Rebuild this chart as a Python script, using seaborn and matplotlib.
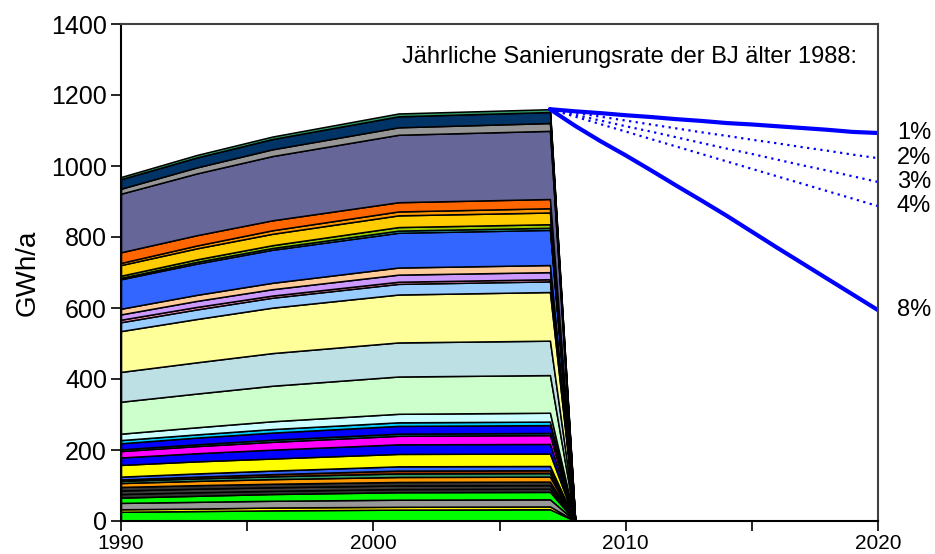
import numpy as np
import pandas as pd
import matplotlib
matplotlib.use("Agg")
import matplotlib.pyplot as plt
import seaborn as sns

# ---------------- data ----------------
stack_years = [1990, 1993, 1996, 2001, 2007, 2008]

# layer values (GWh/a) bottom -> top, at stack_years
layer_values = [
    [26, 28, 30, 32, 33, 0],
    [7, 7, 8, 8, 8, 0],
    [18, 19, 19, 20, 20, 0],
    [15, 17, 19, 21, 21, 0],
    [10, 10, 9, 9, 9, 0],
    [10, 10, 10, 10, 10, 0],
    [10, 10, 10, 10, 10, 0],
    [11, 12, 13, 14, 14, 0],
    [6, 7, 8, 10, 10, 0],
    [4, 5, 6, 8, 8, 0],
    [8, 9, 10, 12, 12, 0],
    [33, 34, 34, 35, 35, 0],
    [21, 23, 25, 27, 27, 0],
    [18, 20, 22, 24, 25, 0],
    [5, 5, 6, 6, 6, 0],
    [17, 19, 20, 22, 22, 0],
    [9, 9, 10, 10, 10, 0],
    [18, 20, 22, 24, 25, 0],
    [90, 95, 100, 105, 106, 0],
    [84, 88, 92, 96, 97, 0],
    [115, 122, 128, 135, 137, 0],
    [25, 27, 28, 30, 30, 0],
    [7, 7, 6, 6, 6, 0],
    [15, 17, 18, 20, 20, 0],
    [16, 17, 18, 20, 20, 0],
    [83, 88, 93, 98, 99, 0],
    [4, 5, 5, 6, 6, 0],
    [6, 7, 8, 10, 10, 0],
    [30, 31, 32, 33, 33, 0],
    [6, 8, 10, 11, 12, 0],
    [30, 29, 28, 26, 26, 0],
    [165, 174, 181, 190, 192, 0],
    [14, 17, 19, 21, 22, 0],
    [27, 28, 29, 31, 31, 0],
    [6, 7, 7, 8, 8, 0],
]

layer_colors = [
    "#00FF00", "#FFFF00", "#999999", "#00FF00", "#333333", "#3C3C3C",
    "#333333", "#FF9900", "#339966", "#993300", "#3366FF", "#FFFF00",
    "#0000FF", "#FF00FF", "#008080", "#0000FF", "#00CCFF", "#CCFFFF",
    "#CCFFCC", "#BCE0E3", "#FFFF99", "#99CCFF", "#FF99CC", "#CC99FF",
    "#FFCC99", "#3366FF", "#33CCCC", "#99CC00", "#FFCC00", "#FF9900",
    "#FF6600", "#666699", "#969696", "#003366", "#339966",
]

scen_years = list(range(2007, 2021))
scen_1 = [1160, 1154, 1149, 1143, 1138, 1132, 1127, 1121, 1117, 1112, 1107, 1102, 1096, 1093]
scen_2 = [1160, 1150, 1139, 1128, 1117, 1106, 1095, 1085, 1074, 1064, 1053, 1043, 1032, 1022]
scen_3 = [1160, 1144, 1128, 1112, 1097, 1081, 1065, 1049, 1034, 1018, 1002, 987, 971, 955]
scen_4 = [1160, 1139, 1118, 1097, 1076, 1055, 1034, 1013, 992, 971, 950, 929, 908, 887]
scen_8 = [1160, 1113, 1070, 1030, 988, 945, 903, 860, 815, 770, 726, 682, 638, 594]
scen_labels = ["1%", "2%", "3%", "4%", "8%"]

x_major = [1990, 2000, 2010, 2020]
x_minor = [1995, 2005, 2015]
y_ticks = [0, 200, 400, 600, 800, 1000, 1200, 1400]

# ---------------- style ----------------
sns.set_theme(style="white")
plt.rcParams["font.family"] = ["Liberation Sans", "DejaVu Sans"]
for k in ["text.color", "axes.labelcolor", "xtick.color", "ytick.color"]:
    plt.rcParams[k] = "black"

fig = plt.figure(figsize=(9.35, 5.54), dpi=100)
ax = fig.add_axes([121 / 935, 1 - 521 / 554, (878 - 121) / 935, (521 - 24) / 554])

ax.stackplot(stack_years, *layer_values, colors=layer_colors,
             edgecolor="black", linewidth=1.1)

scen_list = [scen_1, scen_2, scen_3, scen_4, scen_8]
scen_styles = ["-", (0, (1, 2)), (0, (1, 2)), (0, (1, 2)), "-"]
scen_lw = [3.0, 1.6, 1.6, 1.6, 3.0]
for vals, ls, lw, lab in zip(scen_list, scen_styles, scen_lw, scen_labels):
    df = pd.DataFrame({"year": scen_years, "value": vals})
    sns.lineplot(data=df, x="year", y="value", ax=ax, color="#0000FF",
                 linewidth=lw, linestyle=ls, legend=False)
    ax.text(2020 + 0.75, vals[-1], lab, fontsize=17, ha="left", va="center",
            color="black", clip_on=False)

ax.text(0.972, 0.934, "Jährliche Sanierungsrate der BJ älter 1988:",
        transform=ax.transAxes, ha="right", va="center", fontsize=17,
        color="black")

ax.set_xlim(1990, 2020)
ax.set_ylim(0, 1400)
ax.set_xticks(x_major)
ax.set_xticks(x_minor, minor=True)
ax.set_xticklabels([str(v) for v in x_major])
ax.set_yticks(y_ticks)
ax.set_yticklabels([str(v) for v in y_ticks])
ax.tick_params(axis="x", which="both", direction="out", length=7, width=1.2,
               bottom=True, labelsize=15, pad=2.5, color="black")
ax.tick_params(axis="y", which="both", direction="out", length=7, width=1.2,
               left=True, labelsize=18, pad=3, color="black")
ax.set_xlabel("")
ax.set_ylabel("GWh/a", fontsize=20, labelpad=8)

for side in ["left", "bottom"]:
    ax.spines[side].set_color("black")
    ax.spines[side].set_linewidth(1.5)
for side in ["top", "right"]:
    ax.spines[side].set_color("#404040")
    ax.spines[side].set_linewidth(1.5)
    ax.spines[side].set_visible(True)
ax.grid(False)
ax.set_facecolor("white")

fig.savefig("out.png", dpi=100, facecolor="white")
